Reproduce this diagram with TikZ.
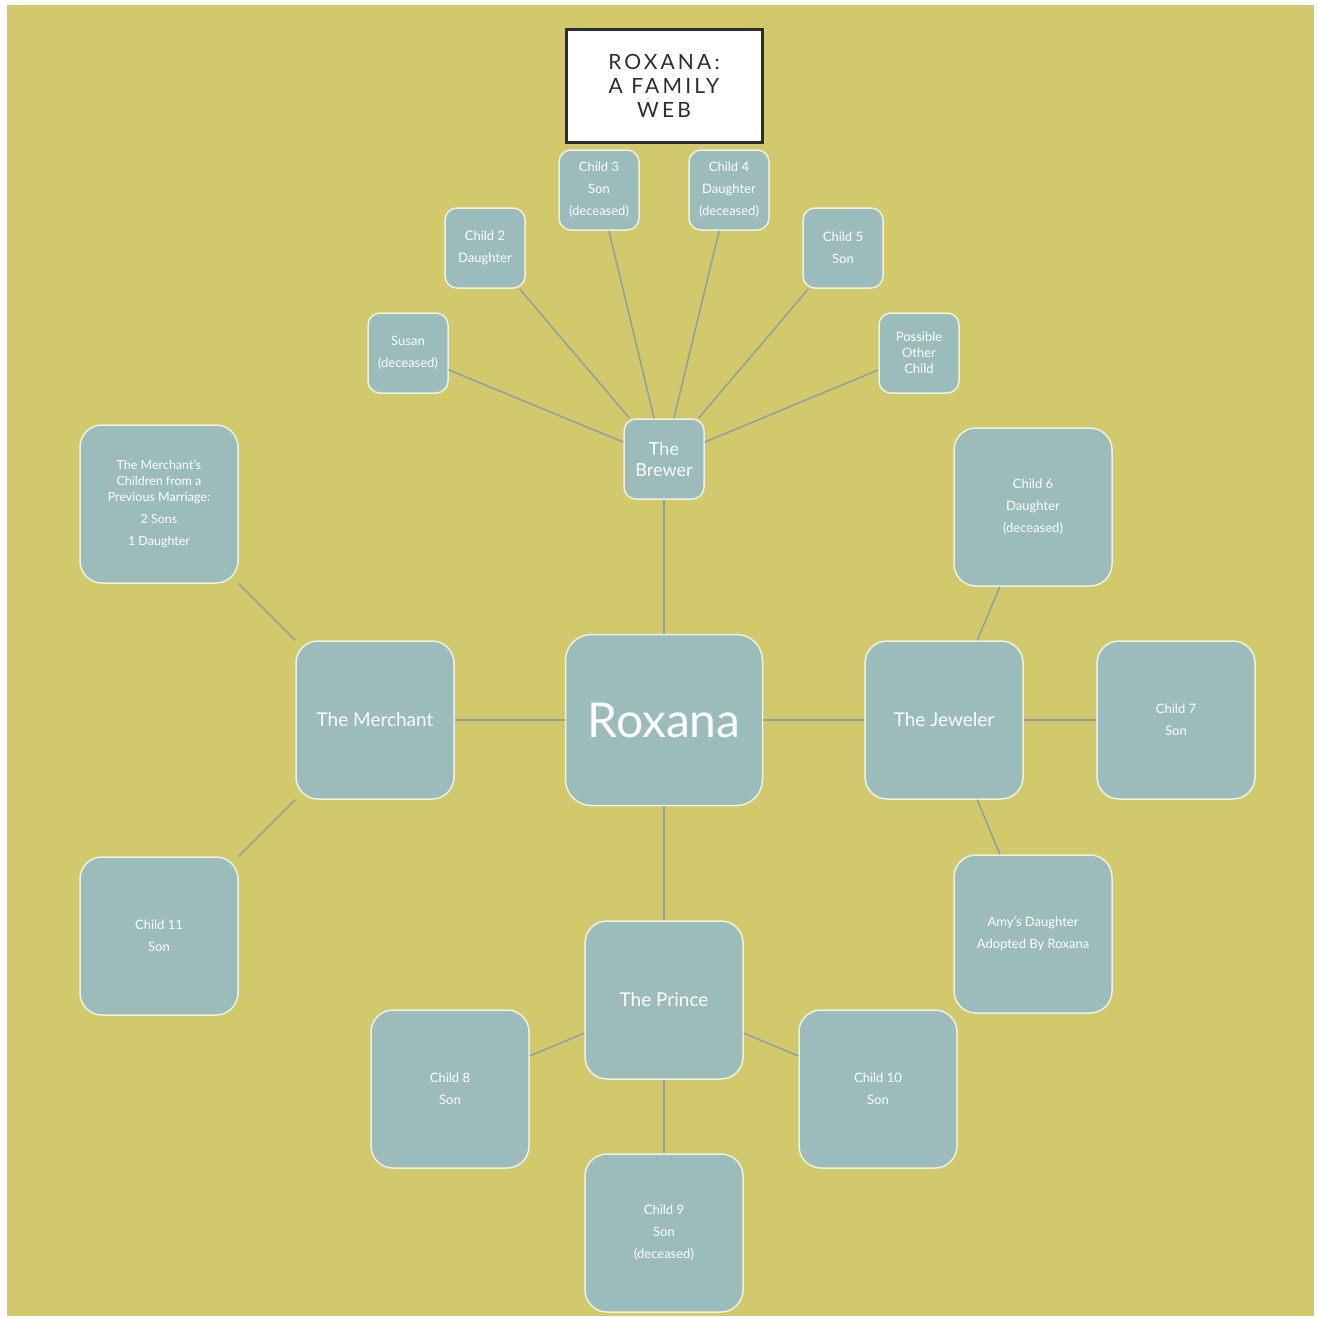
\documentclass[tikz,border=0pt]{standalone}
\usepackage{fontspec}
\setmainfont{Lato}
\newfontfamily\titlefont[LetterSpace=15]{Lato}
\definecolor{olivebg}{RGB}{209,201,108}
\definecolor{nodefill}{RGB}{155,188,187}
\definecolor{nodeline}{RGB}{240,240,225}
\definecolor{linkcolor}{RGB}{140,162,160}
\definecolor{titleline}{RGB}{45,45,45}
\tikzset{
  web/.style={draw=nodeline, line width=1.5pt, fill=nodefill, text=white,
    rounded corners=12pt, minimum width=80pt, minimum height=80pt,
    inner sep=0pt, align=center, font=\fontsize{13}{22}\selectfont},
  bigweb/.style={web, rounded corners=22pt, minimum width=158pt, minimum height=158pt},
  link/.style={draw=linkcolor, line width=1.5pt}
}
\begin{document}
\begin{tikzpicture}[x=1pt, y=-1pt]
    \useasboundingbox (0, 0) rectangle (1317, 1317);
    \fill[olivebg] (7, 5) rectangle (1314, 1316);

    \node[draw=titleline, line width=3pt, fill=white, minimum width=196pt, minimum height=113pt,
          align=center, font=\titlefont\fontsize{21}{24}\selectfont, text=titleline]
          (title) at (664, 86) {ROXANA:\\A FAMILY\\WEB};

    % the brewer and his children
        \node[web] (child3) at (599, 190) {Child 3\\Son\\(deceased)};
        \node[web] (child4) at (729, 190) {Child 4\\Daughter\\(deceased)};
        \node[web] (child2) at (485, 248) {Child 2\\Daughter};
        \node[web] (child5) at (843, 248) {Child 5\\Son};
        \node[web] (susan) at (408, 353) {Susan\\(deceased)};
        \node[web, font=\fontsize{13}{16}\selectfont] (other) at (919, 353) {Possible\\Other\\Child};
    \node[web, font=\fontsize{18}{21}\selectfont] (brewer) at (664, 459) {The\\Brewer};

    \node[web, rounded corners=26pt, minimum width=197pt, minimum height=171pt,
          font=\fontsize{48}{52}\selectfont] (roxana) at (664, 720) {Roxana};

    % the merchant
    \node[bigweb, font=\fontsize{19}{22}\selectfont] (merchant) at (375, 720) {The Merchant};
        \node[bigweb, font=\fontsize{12.5}{16}\selectfont] (merchkids) at (159, 504)
            {The Merchant's\\Children from a\\Previous Marriage:\\[6pt]2 Sons\\[6pt]1 Daughter};
        \node[bigweb] (child11) at (159, 936) {Child 11\\Son};

    % the jeweler
    \node[bigweb, font=\fontsize{19}{22}\selectfont] (jeweler) at (944, 720) {The Jeweler};
        \node[bigweb] (child6) at (1033, 507) {Child 6\\Daughter\\(deceased)};
        \node[bigweb] (child7) at (1176, 720) {Child 7\\Son};
        \node[bigweb] (amy) at (1033, 934) {Amy's Daughter\\Adopted By Roxana};

    % the prince
    \node[bigweb, font=\fontsize{19}{22}\selectfont] (prince) at (664, 1000) {The Prince};
        \node[bigweb] (child8) at (450, 1089) {Child 8\\Son};
        \node[bigweb] (child10) at (878, 1089) {Child 10\\Son};
        \node[bigweb] (child9) at (664, 1233) {Child 9\\Son\\(deceased)};

    \draw[link] (brewer) -- (susan);
    \draw[link] (brewer) -- (child2);
    \draw[link] (brewer) -- (child3);
    \draw[link] (brewer) -- (child4);
    \draw[link] (brewer) -- (child5);
    \draw[link] (brewer) -- (other);
    \draw[link] (brewer) -- (roxana);

    \draw[link] (roxana) -- (merchant);
    \draw[link] (roxana) -- (jeweler);
    \draw[link] (roxana) -- (prince);

    \draw[link] (merchant) -- (merchkids);
    \draw[link] (merchant) -- (child11);
    \draw[link] (jeweler) -- (child6);
    \draw[link] (jeweler) -- (child7);
    \draw[link] (jeweler) -- (amy);
    \draw[link] (prince) -- (child8);
    \draw[link] (prince) -- (child10);
    \draw[link] (prince) -- (child9);
\end{tikzpicture}
\end{document}
